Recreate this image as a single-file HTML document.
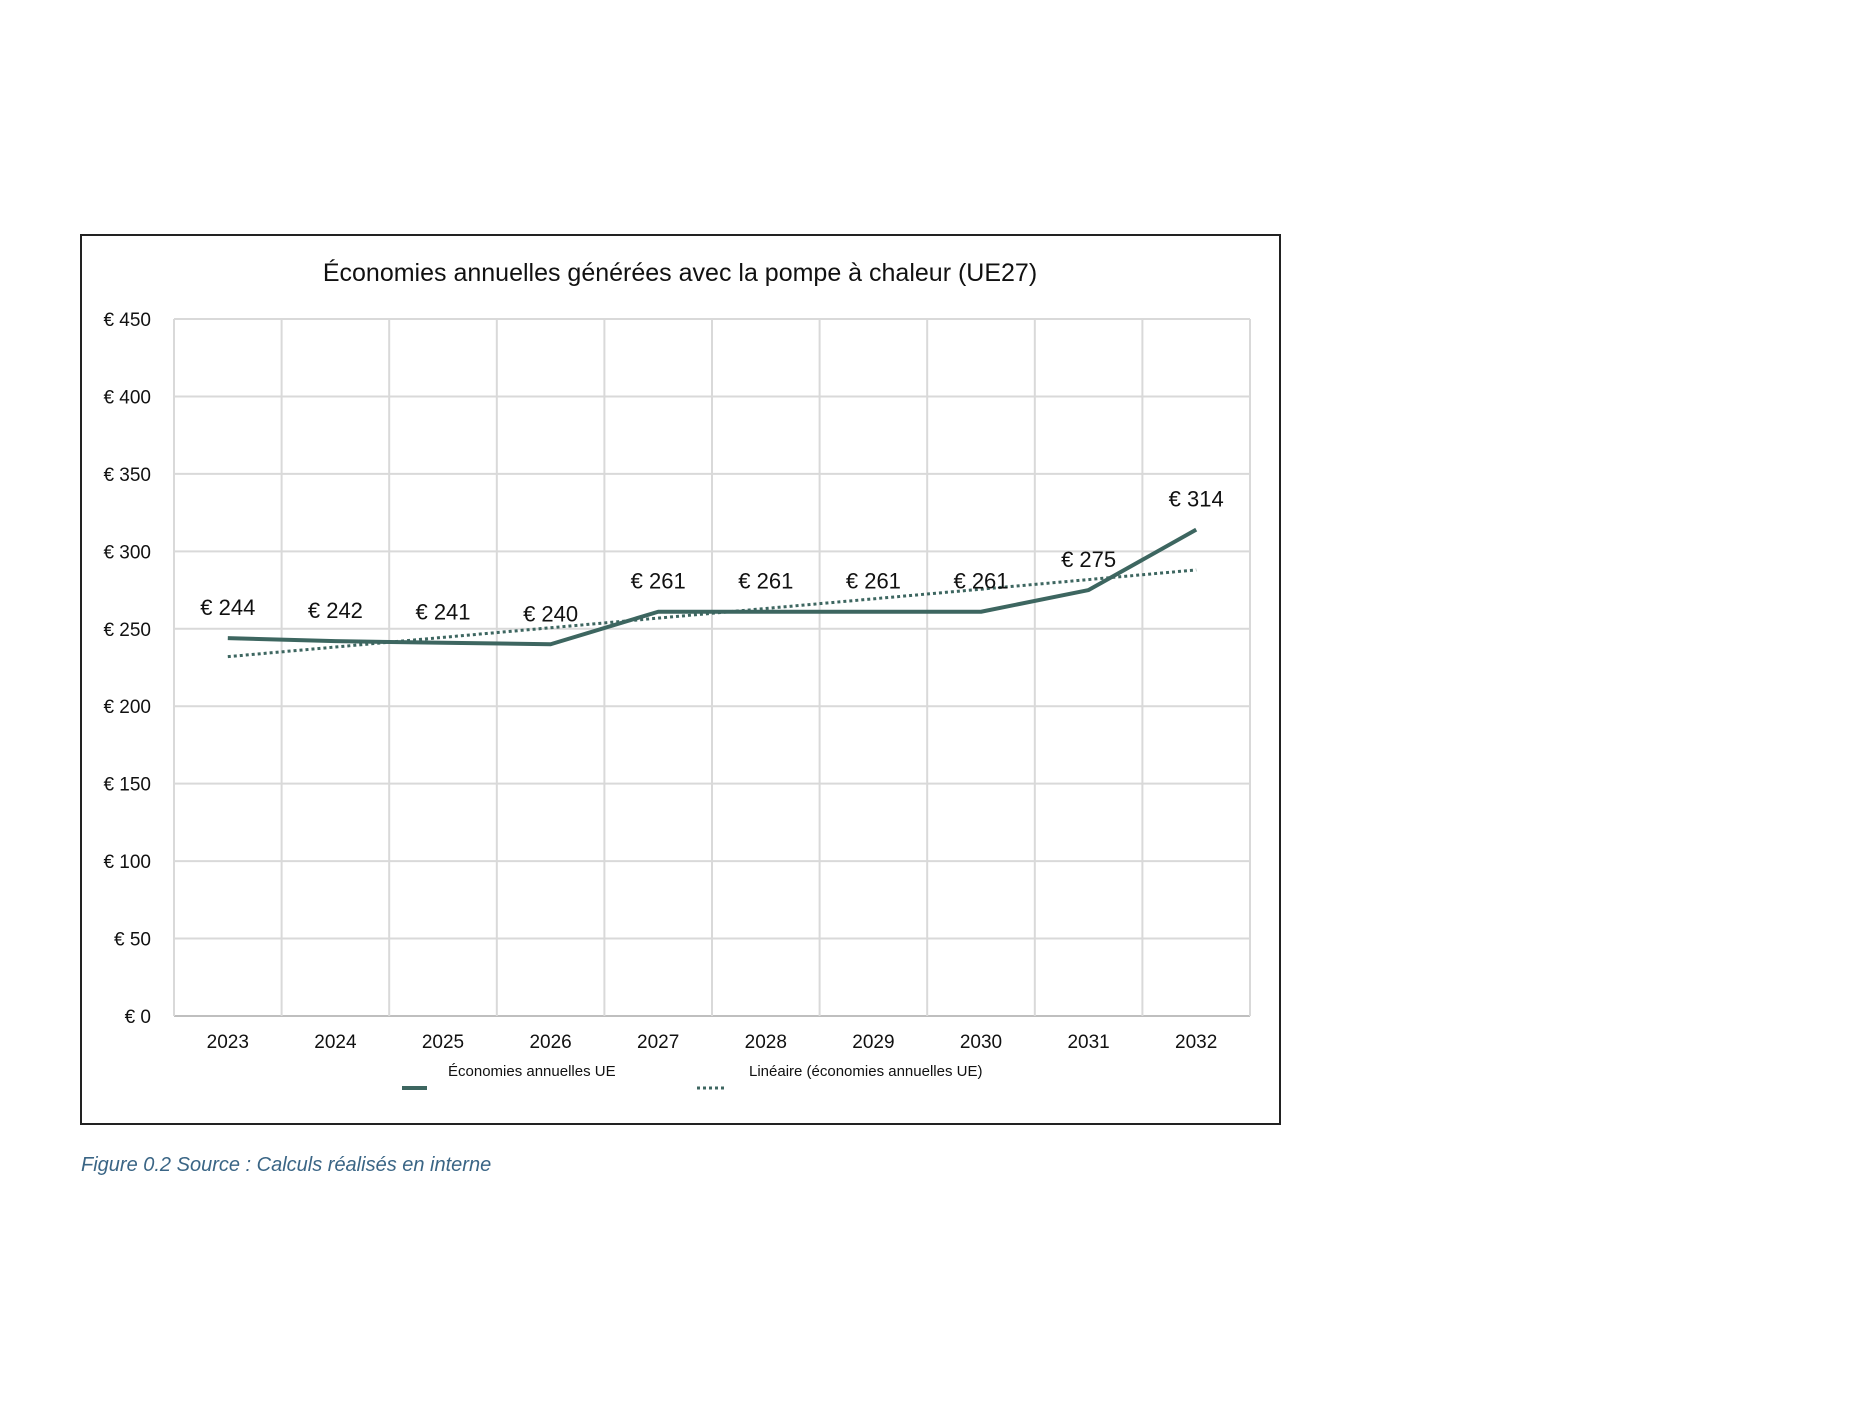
<!DOCTYPE html>
<html><head><meta charset="utf-8"><style>
body{margin:0;background:#fff;}
svg text{font-family:"Liberation Sans",sans-serif;fill:#111;}
</style></head><body>
<svg width="1859" height="1396" xmlns="http://www.w3.org/2000/svg">
<rect x="81" y="235" width="1199" height="889" fill="#fff" stroke="#222" stroke-width="2"/>
<text x="680" y="281" font-size="25" text-anchor="middle">Économies annuelles générées avec la pompe à chaleur (UE27)</text>
<g id="grid"></g><g id="axes"></g><g id="series"></g>
<g>
<text x="448" y="1076" font-size="15">Économies annuelles UE</text>
<line x1="402" y1="1088" x2="427" y2="1088" stroke="#3d6660" stroke-width="4"/>
<text x="749" y="1076" font-size="15">Linéaire (économies annuelles UE)</text>
<line x1="697" y1="1088" x2="725" y2="1088" stroke="#3d6660" stroke-width="3" stroke-dasharray="3,3"/>
</g>
<text x="81" y="1171" font-size="20" font-style="italic" style="fill:#3a6585">Figure 0.2 Source : Calculs réalisés en interne</text>
</svg>
<script>
const categories=["2023","2024","2025","2026","2027","2028","2029","2030","2031","2032"];
const savings=[244,242,241,240,261,261,261,261,275,314];
const valueLabels=["€ 244","€ 242","€ 241","€ 240","€ 261","€ 261","€ 261","€ 261","€ 275","€ 314"];
const trendEnds=[232,288];
const yTicks=[0,50,100,150,200,250,300,350,400,450];
const yTickLabels=["€ 0","€ 50","€ 100","€ 150","€ 200","€ 250","€ 300","€ 350","€ 400","€ 450"];
const NS="http://www.w3.org/2000/svg";
const L=174,R=1250,T=319,B=1016,yMax=450;
const band=(R-L)/categories.length;
const xs=i=>L+band*(i+0.5);
const ys=v=>B-(v/yMax)*(B-T);
function mk(tag,attrs,parent){const e=document.createElementNS(NS,tag);for(const k in attrs)e.setAttribute(k,attrs[k]);document.getElementById(parent).appendChild(e);return e;}
yTicks.forEach((t,i)=>{
 const g=mk('line',{x1:L,x2:R,y1:ys(t),y2:ys(t),stroke:t===0?'#bfbfbf':'#d9d9d9','stroke-width':2},'grid');
 
 
 const tx=mk('text',{x:151,y:ys(t)+7,'font-size':19,'text-anchor':'end'},'axes');
 tx.textContent=yTickLabels[i];
 
 
});
for(let i=0;i<=categories.length;i++){
 const v=mk('line',{x1:L+band*i,x2:L+band*i,y1:T,y2:B,stroke:'#d9d9d9','stroke-width':2},'grid');
 
 
}
categories.forEach((c,i)=>{
 const tx=mk('text',{x:xs(i),y:1048,'font-size':19,'text-anchor':'middle'},'axes');
 tx.textContent=c;
 
 
});
const trend=mk('line',{x1:xs(0),y1:ys(trendEnds[0]),x2:xs(categories.length-1),y2:ys(trendEnds[1]),stroke:'#3d6660','stroke-width':3,'stroke-dasharray':'3,3'},'series');


const pl=mk('polyline',{points:savings.map((v,i)=>xs(i)+','+ys(v)).join(' '),fill:'none',stroke:'#3d6660','stroke-width':4,'stroke-linejoin':'round'},'series');


savings.forEach((v,i)=>{
 const tx=mk('text',{x:xs(i),y:ys(v)-23,'font-size':22,'text-anchor':'middle'},'series');
 tx.textContent=valueLabels[i];
 
 
});
</script>
</body></html>
